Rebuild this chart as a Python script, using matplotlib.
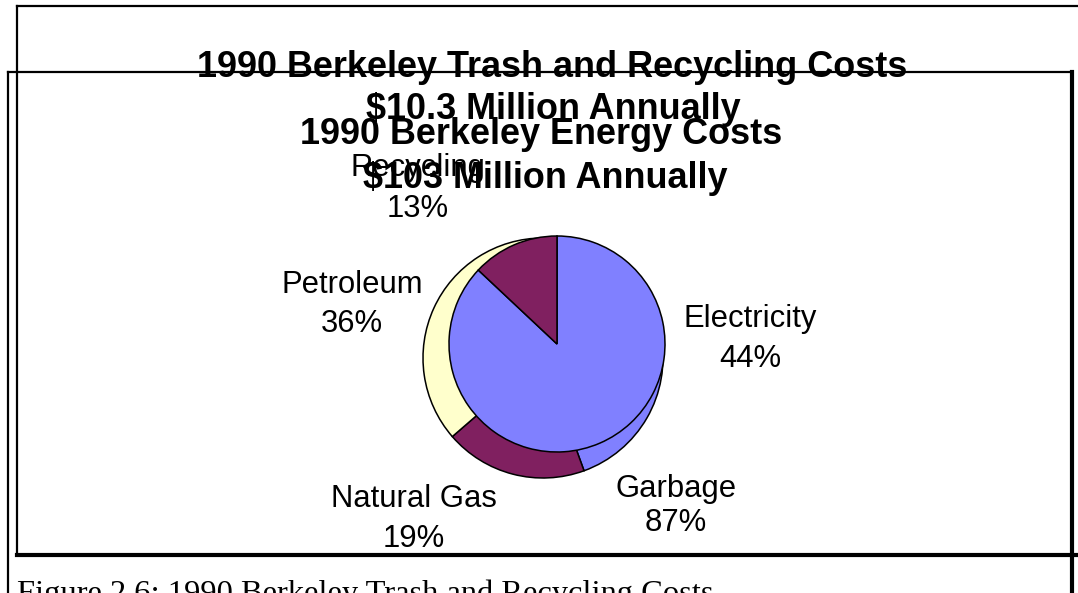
import matplotlib
matplotlib.use('Agg')
import matplotlib.pyplot as plt
from matplotlib.lines import Line2D

# Datos de los dos gráficos de tarta
energia_categorias = ['Electricity', 'Natural Gas', 'Petroleum']
energia_valores = [44, 19, 36]
energia_colores = ['#8080FF', '#802060', '#FFFFCC']

basura_categorias = ['Garbage', 'Recycling']
basura_valores = [87, 13]
basura_colores = ['#8080FF', '#802060']

titulo_basura = ['1990 Berkeley Trash and Recycling Costs', '$10.3 Million Annually']
titulo_energia = ['1990 Berkeley Energy Costs', '$103 Million Annually']
pie_figura = 'Figure 2.6: 1990 Berkeley Trash and Recycling Costs'

# Lienzo en píxeles: x hacia la derecha, y desde arriba
W, H = 1078, 593


def py(y):
    return H - y


def pt(px):
    return px * 0.72


fig = plt.figure(figsize=(W / 100, H / 100), dpi=100)
ax = fig.add_axes([0, 0, 1, 1])

sans = 'Liberation Sans'


def linea(xs, ys, lw):
    ax.add_line(Line2D(xs, [py(v) for v in ys], color='black', lw=lw,
                       solid_capstyle='projecting', clip_on=True))


# Marco del gráfico de energía
linea([8, 8], [72, 600], 1.6)
linea([8, 1072], [72, 72], 1.6)
linea([1072, 1072], [72, 600], 3.0)

# Marco del gráfico de basura
linea([17, 17], [6, 555], 1.6)
linea([17, 1100], [6, 6], 1.6)
linea([17, 1100], [555, 555], 3.0)

# Tarta de energía (detrás)
ax.pie(energia_valores, colors=energia_colores, startangle=90, counterclock=False,
       center=(543, py(358)), radius=120,
       wedgeprops=dict(edgecolor='black', linewidth=1.1))

# Tarta de basura (delante)
ax.pie(basura_valores, colors=basura_colores, startangle=90, counterclock=False,
       center=(557, py(344)), radius=108,
       wedgeprops=dict(edgecolor='black', linewidth=1.1))

ax.set_aspect('auto')
ax.set_xlim(0, W)
ax.set_ylim(0, H)
ax.axis('off')

# Posiciones de las etiquetas (centro x, línea base del nombre, línea base del %)
etiquetas = {
    'Electricity': (750, 327, 367),
    'Natural Gas': (414, 507, 547),
    'Petroleum': (352, 293, 332),
    'Garbage': (676, 497, 531),
    'Recycling': (418, 176, 217),
}
valores = dict(zip(energia_categorias, energia_valores))
valores.update(zip(basura_categorias, basura_valores))

for nombre, (x, y1, y2) in etiquetas.items():
    ax.text(x, py(y1), nombre, ha='center', va='baseline', fontsize=pt(31), family=sans)
    ax.text(x, py(y2), f'{valores[nombre]}%', ha='center', va='baseline', fontsize=pt(31), family=sans)

# Títulos
ax.text(541, py(144), titulo_energia[0], ha='center', va='baseline',
        fontsize=pt(36), fontweight='bold', family=sans)
ax.text(545, py(188), titulo_energia[1], ha='center', va='baseline',
        fontsize=pt(36), fontweight='bold', family=sans)
ax.text(552, py(77), titulo_basura[0], ha='center', va='baseline',
        fontsize=pt(36), fontweight='bold', family=sans)
ax.text(553, py(119), titulo_basura[1], ha='center', va='baseline',
        fontsize=pt(36), fontweight='bold', family=sans)

# Pie de figura, cortado por el borde inferior
ax.text(17, py(602), pie_figura, ha='left', va='baseline',
        fontsize=pt(32.5), family='Liberation Serif')

fig.savefig('out.png', dpi=100)
